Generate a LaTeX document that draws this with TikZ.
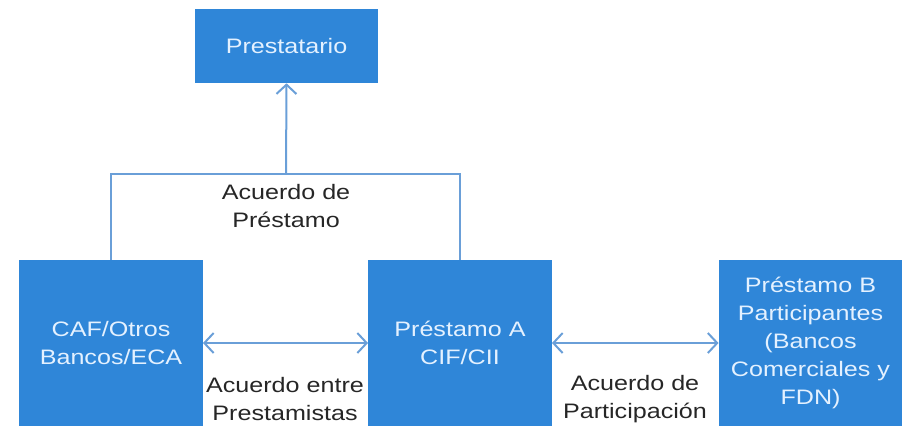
\documentclass[tikz,border=0pt]{standalone}
\usepackage{fontspec}
\setmainfont{Liberation Sans}[FakeStretch=1.2]
\usepackage{tikz}
\usetikzlibrary{arrows.meta, positioning}

\definecolor{boxblue}{HTML}{2F86D8}
\definecolor{boxtext}{HTML}{E4F1FF}
\definecolor{lineblue}{HTML}{6A9FD8}
\definecolor{labeltext}{HTML}{262626}

\begin{document}
\begin{tikzpicture} [x=0.75pt, y=-0.75pt,
    font=\fontsize{15.7}{21}\selectfont,
    box/.style={fill=boxblue, text=boxtext, align=center, inner sep=0pt,
        minimum width=137.5pt, minimum height=124.5pt},
    lbl/.style={text=labeltext, align=center, inner sep=0pt},
    link/.style={draw=lineblue, line width=1.5pt},
    tip/.style={-{Straight Barb[length=7pt, width=15pt, line width=1.5pt]}},
    both/.style={{Straight Barb[length=7pt, width=15pt, line width=1.5pt]}-{Straight Barb[length=7pt, width=15pt, line width=1.5pt]}}]

\useasboundingbox (0,0) rectangle (902,426);

\node (p) [box, minimum height=55.5pt] at (286.5,46) {Prestatario};

\node (caf) [box] at (111,343) {CAF/Otros\\Bancos/ECA};

\node (a) [box] at (460,343) {Préstamo A\\CIF/CII};

\node (b) [box] at (810.5,343) {Préstamo B\\Participantes\\(Bancos\\Comerciales y\\FDN)};

\coordinate (top) at (286,174);

% Lines
\draw [link] (caf.north) |- (top) -| (a.north);

\path [link]
(top) edge [tip] (p.south)
(caf) edge [both] (a)
(a) edge [both] (b);

% Labels
\node (lp) [lbl] at (286,206) {Acuerdo de\\Préstamo};

\node (le) [lbl] at (285,399) {Acuerdo entre\\Prestamistas};

\node (lq) [lbl] at (635,399) {Acuerdo de\\Participación};
\end{tikzpicture}
\end{document}
